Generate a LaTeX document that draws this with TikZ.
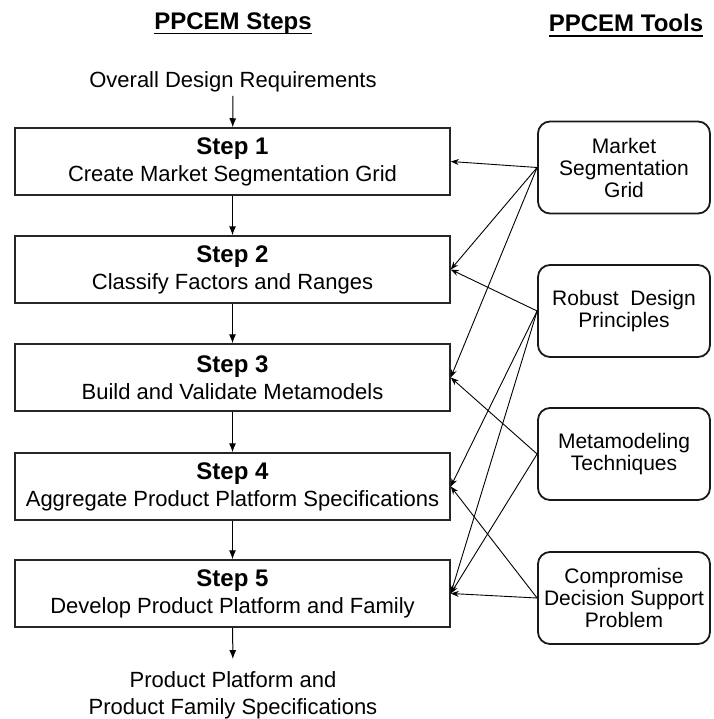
\documentclass[tikz,border=0pt]{standalone}
\usepackage{fontspec}
\setmainfont{Liberation Sans}
\usetikzlibrary{arrows.meta}
\begin{document}
\begin{tikzpicture}[x=1pt,y=-1pt,
  stepbox/.style={draw=black!85, line width=1.5pt, minimum width=435pt, minimum height=67pt,
    align=center, inner sep=0pt, font=\fontsize{22}{27}\selectfont},
  toolbox/.style={draw=black!90, line width=1.8pt, rounded corners=12pt, minimum width=172pt,
    minimum height=92pt, align=center, inner sep=0pt, font=\fontsize{21}{22}\selectfont},
  title/.style={font=\fontsize{24}{28}\selectfont\bfseries, inner sep=0pt, anchor=base},
  plain/.style={font=\fontsize{22}{27}\selectfont, align=center, inner xsep=0pt},
  flow/.style={line width=1pt, -{Latex[length=9pt,width=7pt]}},
  feed/.style={line width=0.9pt, -{Stealth[length=8pt,width=6pt]}}
]
\useasboundingbox (0,0) rectangle (713,719);
\newcommand{\sttl}[1]{{\fontsize{24}{27}\selectfont\bfseries #1}}
% titles
\node[title] (t1) at (233,30) {PPCEM Steps};
\node[title] (t2) at (626,32) {PPCEM Tools};
\draw[line width=1.8pt] ([yshift=-3.5pt]t1.base west) -- ([yshift=-3.5pt]t1.base east);
\draw[line width=1.8pt] ([yshift=-4pt]t2.base west) -- ([yshift=-4pt]t2.base east);
% input / output
\node[plain, inner ysep=3pt, anchor=base] (in) at (233,88) {Overall Design Requirements};
\node[plain, inner ysep=12pt] (out) at (233,695) {Product Platform and\\Product Family Specifications};
% steps
\node[stepbox] (s1) at (232.5,161.5) {\sttl{Step 1}\\Create Market Segmentation Grid};
\node[stepbox] (s2) at (232.5,269.5) {\sttl{Step 2}\\Classify Factors and Ranges};
\node[stepbox] (s3) at (232.5,377.5) {\sttl{Step 3}\\Build and Validate Metamodels};
\node[stepbox] (s4) at (232.5,486.5) {\sttl{Step 4}\\Aggregate Product Platform Specifications};
\node[stepbox] (s5) at (232.5,593.5) {\sttl{Step 5}\\Develop Product Platform and Family};
% tools
\node[toolbox] (m) at (624,167.5) {Market\\Segmentation\\Grid};
\node[toolbox] (r) at (624,311) {Robust~~Design\\Principles};
\node[toolbox] (mt) at (624,454) {Metamodeling\\Techniques};
\node[toolbox] (c) at (624,598) {Compromise\\Decision Support\\Problem};
% flow
\draw[flow] (in) -- (s1);
\draw[flow] (s1) -- (s2);
\draw[flow] (s2) -- (s3);
\draw[flow] (s3) -- (s4);
\draw[flow] (s4) -- (s5);
\draw[flow] (s5) -- (out);
% tool links
\draw[feed] (m.west) -- (s1.east);
\draw[feed] (m.west) -- (s2.east);
\draw[feed] (m.west) -- (s3.east);
\draw[feed] (r.west) -- (s2.east);
\draw[feed] (r.west) -- (s4.east);
\draw[feed] (r.west) -- (s5.east);
\draw[feed] (mt.west) -- (s3.east);
\draw[feed] (mt.west) -- (s5.east);
\draw[feed] (c.west) -- (s4.east);
\draw[feed] (c.west) -- (s5.east);
\end{tikzpicture}
\end{document}
